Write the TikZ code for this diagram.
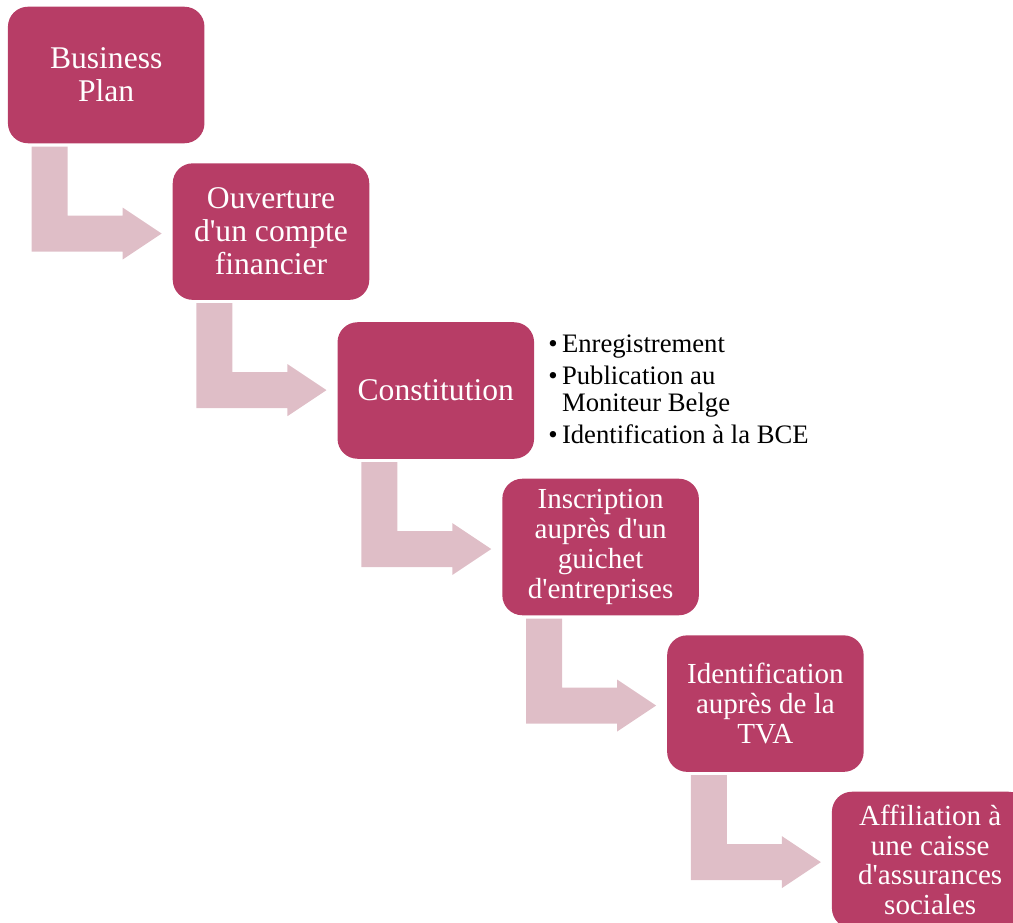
\documentclass[tikz,border=0pt]{standalone}
\usepackage{fontspec}
\setmainfont{Liberation Serif}
\definecolor{boxred}{RGB}{183,61,102}
\definecolor{arrowpink}{RGB}{223,190,199}
\newcommand{\apos}{\textquotesingle}

\begin{document}
\begin{tikzpicture}[x=0.75pt,y=-0.75pt]
\tikzstyle{every node}+=[inner sep=0pt]
\tikzstyle{stepbox}=[fill=boxred,rounded corners=15pt,minimum width=147.4pt,minimum height=102.4pt,text=white,align=center]
\tikzstyle{bigtext}=[font=\fontsize{23.7}{24.75}\selectfont]
\tikzstyle{smalltext}=[font=\fontsize{21.8}{22.3}\selectfont]
\tikzstyle{bendarrow}=[fill=arrowpink]
\tikzstyle{bullets}=[align=left,text=black,font=\fontsize{20}{20.25}\selectfont]
\clip (0,0) rectangle (1013,923);
\node [stepbox,bigtext] (plan) at (106.2,75) {Business\\Plan};
\node [stepbox,bigtext] (compte) at (271,231.6) {Ouverture\\d\apos un compte\\financier};
\node [stepbox,bigtext] (constit) at (435.8,390.5) {Constitution};
\node [stepbox,smalltext] (guichet) at (600.6,547) {Inscription\\auprès d\apos un\\guichet\\d\apos entreprises};
\node [stepbox,smalltext] (tva) at (765.4,703.6) {Identification\\auprès de la\\TVA};
\node [stepbox,smalltext] (caisse) at (930.2,860) {Affiliation à\\une caisse\\d\apos assurances\\sociales};
\node [bullets,anchor=north west] (details) at (548,335) {\textbullet\,Enregistrement\\[3.75pt]\textbullet\,Publication au\\\phantom{\textbullet\,}Moniteur Belge\\[3.75pt]\textbullet\,Identification à la BCE};
\fill [bendarrow,shift={(plan.south west)}] (24,3) -- (60,3) -- (60,72) -- (115,72) -- (115,64) -- (154,90) -- (115,116) -- (115,108) -- (24,108) -- cycle;
\fill [bendarrow,shift={(compte.south west)}] (24,3) -- (60,3) -- (60,72) -- (115,72) -- (115,64) -- (154,90) -- (115,116) -- (115,108) -- (24,108) -- cycle;
\fill [bendarrow,shift={(constit.south west)}] (24,3) -- (60,3) -- (60,72) -- (115,72) -- (115,64) -- (154,90) -- (115,116) -- (115,108) -- (24,108) -- cycle;
\fill [bendarrow,shift={(guichet.south west)}] (24,3) -- (60,3) -- (60,72) -- (115,72) -- (115,64) -- (154,90) -- (115,116) -- (115,108) -- (24,108) -- cycle;
\fill [bendarrow,shift={(tva.south west)}] (24,3) -- (60,3) -- (60,72) -- (115,72) -- (115,64) -- (154,90) -- (115,116) -- (115,108) -- (24,108) -- cycle;
\end{tikzpicture}
\end{document}
